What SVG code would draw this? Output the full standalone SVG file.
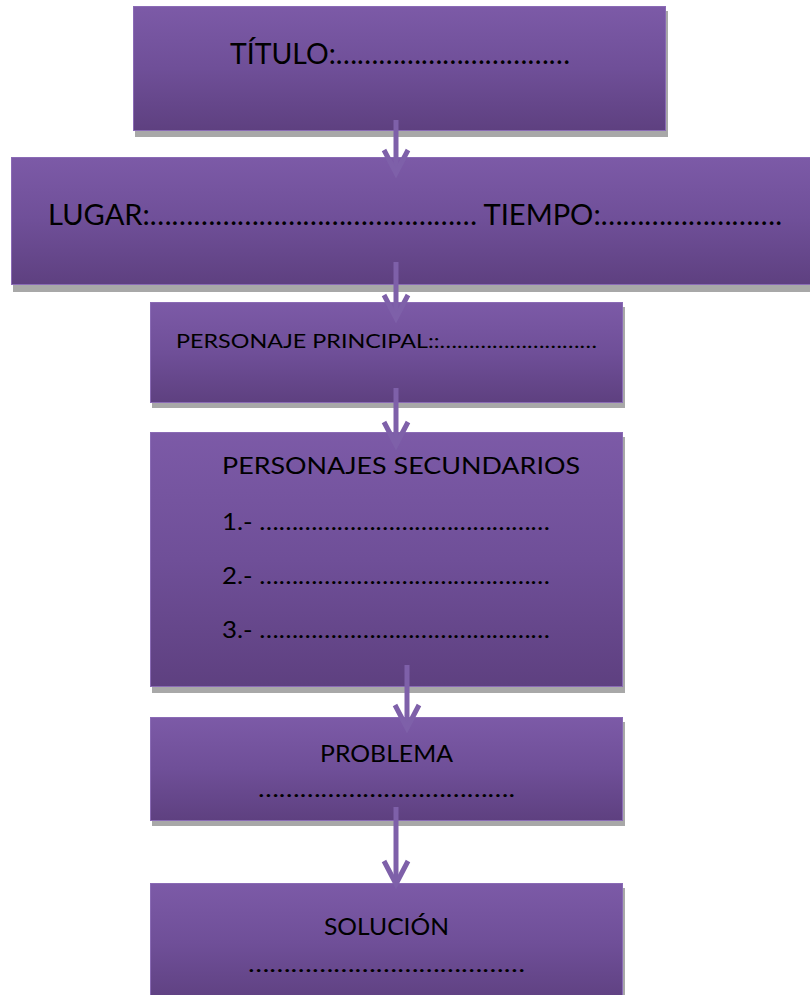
<svg xmlns="http://www.w3.org/2000/svg" width="810" height="995" viewBox="0 0 810 995">
<defs>
<linearGradient id="g" x1="0" y1="0" x2="0" y2="1">
<stop offset="0" stop-color="#7C5AA7"/>
<stop offset="0.5" stop-color="#6F4F98"/>
<stop offset="1" stop-color="#5E4080"/>
</linearGradient>
</defs>
<style>
.box{fill:url(#g);stroke:#8A6BB5;stroke-width:1}
.sh{fill:#A8A8A8}
.t{font-family:Lato,"Liberation Sans",sans-serif;fill:#000}
.ar{fill:none;stroke:#7E60A9;stroke-width:5;stroke-linejoin:miter}
</style>
<rect width="810" height="995" fill="#fff"/>

<g id="n1">
<rect class="sh" x="135" y="11" width="533" height="126"/>
<rect class="box" x="133.5" y="6.5" width="532" height="124"/>
<text class="t" x="230" y="64" font-size="28" textLength="340" lengthAdjust="spacingAndGlyphs">TÍTULO:……………………………</text>
</g>

<g id="n2">
<rect class="sh" x="13" y="162" width="800" height="130"/>
<rect class="box" x="11.5" y="157.5" width="800" height="127"/>
<text class="t" x="48" y="225" font-size="28" textLength="734" lengthAdjust="spacingAndGlyphs">LUGAR:……………………………………… TIEMPO:…………………….</text>
</g>

<g id="n3">
<rect class="sh" x="152" y="307" width="473" height="101"/>
<rect class="box" x="150.5" y="302.5" width="472" height="100"/>
<text class="t" x="176" y="348" font-size="20" textLength="421" lengthAdjust="spacingAndGlyphs">PERSONAJE PRINCIPAL::………………………</text>
</g>

<g id="n4">
<rect class="sh" x="152" y="437" width="473" height="256"/>
<rect class="box" x="150.5" y="432.5" width="472" height="254"/>
<text class="t" x="222" y="474" font-size="24" textLength="358" lengthAdjust="spacingAndGlyphs">PERSONAJES SECUNDARIOS</text>
<text class="t" x="222" y="530" font-size="24" textLength="328" lengthAdjust="spacingAndGlyphs">1.- ………………………………………</text>
<text class="t" x="222" y="584" font-size="24" textLength="328" lengthAdjust="spacingAndGlyphs">2.- ………………………………………</text>
<text class="t" x="222" y="638" font-size="24" textLength="328" lengthAdjust="spacingAndGlyphs">3.- ………………………………………</text>
</g>

<g id="n5">
<rect class="sh" x="152" y="722" width="473" height="104"/>
<rect class="box" x="150.5" y="717.5" width="472" height="103"/>
<text class="t" x="320" y="762" font-size="24" textLength="133" lengthAdjust="spacingAndGlyphs">PROBLEMA</text>
<text class="t" x="258" y="797" font-size="24" textLength="257" lengthAdjust="spacingAndGlyphs">……………………………….</text>
</g>

<g id="n6">
<rect class="sh" x="152" y="888" width="473" height="120"/>
<rect class="box" x="150.5" y="883.5" width="472" height="120"/>
<text class="t" x="324" y="935" font-size="24" textLength="125" lengthAdjust="spacingAndGlyphs">SOLUCIÓN</text>
<text class="t" x="248" y="972" font-size="24" textLength="277" lengthAdjust="spacingAndGlyphs">…………………………………</text>
</g>

<g id="connectors">
<g>
<line class="ar" x1="396" y1="120" x2="396" y2="172"/>
<path class="ar" d="M384 150 L396 173 L408 150"/>
</g>
<g>
<line class="ar" x1="396" y1="262" x2="396" y2="317"/>
<path class="ar" d="M384 295 L396 318 L408 295"/>
</g>
<g>
<line class="ar" x1="396" y1="388" x2="396" y2="444"/>
<path class="ar" d="M384 422 L396 445 L408 422"/>
</g>
<g>
<line class="ar" x1="407" y1="665" x2="407" y2="727"/>
<path class="ar" d="M395 705 L407 728 L419 705"/>
</g>
<g>
<line class="ar" x1="396" y1="807" x2="396" y2="883"/>
<path class="ar" d="M384 861 L396 884 L408 861"/>
</g>
</g>
</svg>
